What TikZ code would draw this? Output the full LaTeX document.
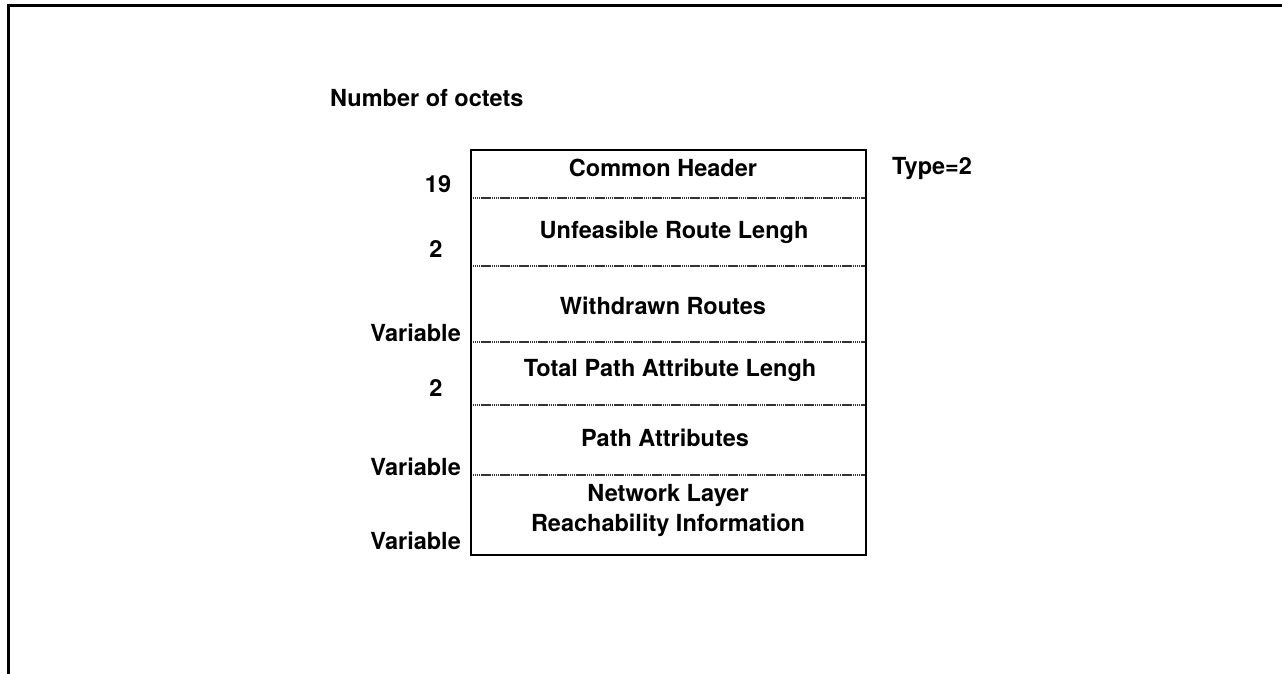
\documentclass[tikz,border=0pt]{standalone}
\usepackage{fontspec}
\setmainfont{TeX Gyre Heros}
\usetikzlibrary{positioning}
\tikzset{
  every picture/.style={line cap=butt, line join=miter},
  frame/.style={line width=3pt, black},
  outer/.style={line width=1.6pt, black},
  divider/.style={line width=1.1pt, black!80, dash pattern=on 1.4pt off 0.5pt},
  field/.style={font=\fontsize{23.5}{27}\selectfont\bfseries, align=center, inner sep=0pt},
  octets/.style={font=\fontsize{23.5}{27}\selectfont\bfseries, inner sep=0pt},
}
\begin{document}
\begin{tikzpicture}[x=1pt, y=-1pt]
  \useasboundingbox (0,0) rectangle (1282,674);
  % ---------------- frame (top and left edge only)
  \draw[frame] (1282,6) -- (8,6) -- (8,674);
  % ---------------- update message layout
  \coordinate (tl) at (471,150);
  \coordinate (br) at (866,555);
  \foreach \y/\n in {198/a, 266/b, 342/c, 405/d, 475/e} {
    \coordinate (l\n) at (471,\y);
    \coordinate (r\n) at (866,\y);
    \draw[divider] (l\n) -- (r\n);
  }
  \draw[outer] (tl) rectangle (br);
  \node[field] (hdr)  at (663,168) {Common Header};
  \node[field] (ufl)  at (674,232) {Unfeasible Route Lengh};
  \node[field] (wdr)  at (663,306) {Withdrawn Routes};
  \node[field] (tpal) at (670,370) {Total Path Attribute Lengh};
  \node[field] (pa)   at (665,438) {Path Attributes};
  \node[field, text depth=0pt] (nlri) at (668,508) {Network Layer\\[3pt]Reachability Information};
  % ---------------- octet counts
  \node[octets, anchor=west] (title) at (330,98) {Number of octets};
  \node[octets] (n19) at (438,184) {19};
  \node[octets] (n2a) at (436,249) {2};
  \node[octets, anchor=east] (v1) at (461,333) {Variable};
  \node[octets] (n2b) at (436,388) {2};
  \node[octets, anchor=east] (v2) at (461,467) {Variable};
  \node[octets, anchor=east] (v3) at (461,541) {Variable};
  \node[octets, anchor=west] (type) at (892,169) {Type=2};
\end{tikzpicture}
\end{document}
